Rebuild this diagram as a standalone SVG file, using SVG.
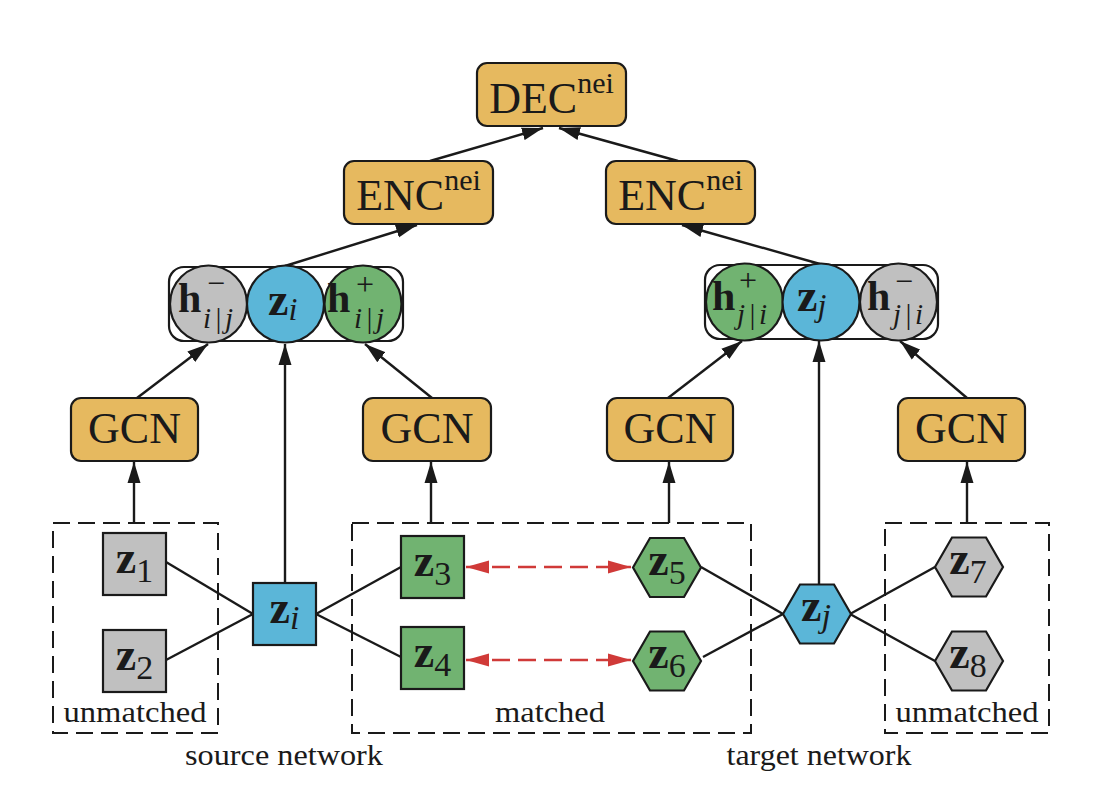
<svg xmlns="http://www.w3.org/2000/svg" width="1118" height="790" viewBox="0 0 1118 790">
<defs>
<style>
.box{fill:#e6b95f;stroke:#1a1a1a;stroke-width:2.2}
.gray{fill:#c0c0c0;stroke:#1a1a1a;stroke-width:2.2}
.blue{fill:#5bb6d8;stroke:#1a1a1a;stroke-width:2.2}
.green{fill:#71b371;stroke:#1a1a1a;stroke-width:2.2}
.grp{fill:none;stroke:#1a1a1a;stroke-width:2.2}
.dash{fill:none;stroke:#1a1a1a;stroke-width:2;stroke-dasharray:17 8}
.edge{stroke:#1a1a1a;stroke-width:2.4;fill:none}
.arr{stroke:#1a1a1a;stroke-width:2.4;fill:none;marker-end:url(#ah)}
.red{stroke:#d03a38;stroke-width:2.4;fill:none;stroke-dasharray:18 8;marker-start:url(#rh);marker-end:url(#rh)}
text{font-family:"Liberation Serif","DejaVu Serif",serif;fill:#1a1a1a}
.lbl{font-size:44px;text-anchor:middle}
.z{font-size:46px;font-weight:bold}
.sub{font-size:34px}
.it{font-style:italic}
.cap{font-size:30px;text-anchor:middle}
</style>
<marker id="ah" markerUnits="userSpaceOnUse" markerWidth="22" markerHeight="14" refX="21" refY="7" orient="auto"><path d="M0,0.5 L21,7 L0,13.5 z" fill="#1a1a1a"/></marker>
<marker id="rh" markerUnits="userSpaceOnUse" markerWidth="24" markerHeight="14" refX="23" refY="7" orient="auto-start-reverse"><path d="M0,0.5 L23,7 L0,13.5 z" fill="#d03a38"/></marker>
</defs>
<rect width="1118" height="790" fill="#ffffff"/>

<g id="connectors">
<line class="arr" x1="430" y1="161" x2="543" y2="128"/>
<line class="arr" x1="678" y1="161" x2="559" y2="128"/>
<line class="arr" x1="285" y1="266" x2="417" y2="225"/>
<line class="arr" x1="820" y1="264" x2="682" y2="225"/>
<line class="arr" x1="137" y1="398" x2="208" y2="344"/>
<line class="arr" x1="432" y1="398" x2="365" y2="344"/>
<line class="arr" x1="285" y1="583" x2="285" y2="344"/>
<line class="arr" x1="668" y1="398" x2="742" y2="341"/>
<line class="arr" x1="967" y1="398" x2="900" y2="341"/>
<line class="arr" x1="819" y1="585" x2="819" y2="341"/>
<line class="arr" x1="134" y1="523" x2="134" y2="462"/>
<line class="arr" x1="431" y1="523" x2="431" y2="462"/>
<line class="arr" x1="669" y1="523" x2="669" y2="462"/>
<line class="arr" x1="967" y1="523" x2="967" y2="462"/>
<line class="edge" x1="166" y1="562" x2="253" y2="614"/>
<line class="edge" x1="166" y1="660" x2="253" y2="614"/>
<line class="edge" x1="316" y1="614" x2="401" y2="567"/>
<line class="edge" x1="316" y1="614" x2="401" y2="657"/>
<line class="edge" x1="701" y1="567" x2="783" y2="614"/>
<line class="edge" x1="703" y1="657" x2="783" y2="614"/>
<line class="edge" x1="850" y1="614" x2="935" y2="567"/>
<line class="edge" x1="850" y1="614" x2="935" y2="661"/>
<line class="red" x1="466" y1="567" x2="631" y2="567"/>
<line class="red" x1="466" y1="660" x2="631" y2="660"/>
</g>

<g id="groups">
<rect class="dash" x="53" y="523" width="165" height="210"/>
<rect class="dash" x="352" y="523" width="399" height="210"/>
<rect class="dash" x="885" y="523" width="164" height="210"/>
<text class="cap" x="135" y="722" textLength="143" lengthAdjust="spacingAndGlyphs">unmatched</text>
<text class="cap" x="550" y="722" textLength="110" lengthAdjust="spacingAndGlyphs">matched</text>
<text class="cap" x="967" y="722" textLength="143" lengthAdjust="spacingAndGlyphs">unmatched</text>
<text class="cap" x="284" y="765" textLength="198" lengthAdjust="spacingAndGlyphs">source network</text>
<text class="cap" x="819" y="765" textLength="185" lengthAdjust="spacingAndGlyphs">target network</text>
</g>

<g id="dec">
<rect class="box" x="477" y="63" width="149" height="63" rx="10"/>
<text class="lbl" x="551.5" y="113">DEC<tspan dy="-20" font-size="30">nei</tspan></text>
</g>
<g id="enc-left">
<rect class="box" x="344" y="161" width="149" height="63" rx="10"/>
<text class="lbl" x="418.5" y="210">ENC<tspan dy="-20" font-size="30">nei</tspan></text>
</g>
<g id="enc-right">
<rect class="box" x="606" y="161" width="149" height="63" rx="10"/>
<text class="lbl" x="680.5" y="210">ENC<tspan dy="-20" font-size="30">nei</tspan></text>
</g>

<g id="gcn1"><rect class="box" x="71" y="398" width="127" height="63" rx="10"/><text class="lbl" x="134.5" y="443">GCN</text></g>
<g id="gcn2"><rect class="box" x="363" y="398" width="128" height="63" rx="10"/><text class="lbl" x="427" y="443">GCN</text></g>
<g id="gcn3"><rect class="box" x="607" y="398" width="126" height="63" rx="10"/><text class="lbl" x="670" y="443">GCN</text></g>
<g id="gcn4"><rect class="box" x="898" y="398" width="127" height="63" rx="10"/><text class="lbl" x="961.5" y="443">GCN</text></g>

<g id="concat-left">
<rect class="grp" x="169" y="267" width="234" height="74" rx="15"/>
<circle class="gray" cx="208.5" cy="304" r="38.5"/>
<circle class="blue" cx="285.5" cy="304" r="38.5"/>
<circle class="green" cx="363" cy="304" r="38.5"/>
<text x="178" y="312" font-size="42" font-weight="bold">h</text>
<text x="207" y="294" font-size="32">−</text>
<text x="203" y="328" font-size="29" font-style="italic" letter-spacing="3">i|j</text>
<text x="268" y="315" font-size="46" font-weight="bold">z<tspan class="it" font-weight="normal" font-size="32" dy="5">i</tspan></text>
<text x="327" y="312" font-size="42" font-weight="bold">h</text>
<text x="356" y="295" font-size="32">+</text>
<text x="354" y="328" font-size="29" font-style="italic" letter-spacing="3">i|j</text>
</g>

<g id="concat-right">
<rect class="grp" x="705" y="265" width="233" height="74" rx="15"/>
<circle class="green" cx="744.5" cy="302" r="38.5"/>
<circle class="blue" cx="821" cy="302" r="38.5"/>
<circle class="gray" cx="898.5" cy="302" r="38.5"/>
<text x="712" y="310" font-size="42" font-weight="bold">h</text>
<text x="739" y="291" font-size="32">+</text>
<text x="737" y="324" font-size="29" font-style="italic" letter-spacing="3">j|i</text>
<text x="797" y="311" font-size="46" font-weight="bold">z<tspan class="it" font-weight="normal" font-size="32" dy="5">j</tspan></text>
<text x="867" y="310" font-size="42" font-weight="bold">h</text>
<text x="895" y="292" font-size="32">−</text>
<text x="893" y="324" font-size="29" font-style="italic" letter-spacing="3">j|i</text>
</g>

<g id="z1"><rect class="gray" x="103" y="533" width="63" height="62"/><text class="z" x="134.5" y="573" text-anchor="middle">z<tspan class="sub" font-weight="normal" dy="9">1</tspan></text></g>
<g id="z2"><rect class="gray" x="103" y="630" width="63" height="62"/><text class="z" x="134.5" y="670" text-anchor="middle">z<tspan class="sub" font-weight="normal" dy="9">2</tspan></text></g>
<g id="zi"><rect class="blue" x="253" y="583" width="63" height="62"/><text class="z" x="284.5" y="623" text-anchor="middle">z<tspan class="sub it" font-weight="normal" dy="6">i</tspan></text></g>
<g id="z3"><rect class="green" x="401" y="536" width="63" height="62"/><text class="z" x="432.5" y="576" text-anchor="middle">z<tspan class="sub" font-weight="normal" dy="9">3</tspan></text></g>
<g id="z4"><rect class="green" x="401" y="627" width="63" height="62"/><text class="z" x="432.5" y="667" text-anchor="middle">z<tspan class="sub" font-weight="normal" dy="9">4</tspan></text></g>
<g id="z5"><polygon class="green" points="633,567.5 650,538 684,538 701,567.5 684,597 650,597"/><text class="z" x="667" y="575" text-anchor="middle">z<tspan class="sub" font-weight="normal" dy="9">5</tspan></text></g>
<g id="z6"><polygon class="green" points="633,661 650,631.5 684,631.5 701,661 684,690.5 650,690.5"/><text class="z" x="667" y="668" text-anchor="middle">z<tspan class="sub" font-weight="normal" dy="9">6</tspan></text></g>
<g id="zj"><polygon class="blue" points="783,614 800,584.5 834,584.5 851,614 834,643.5 800,643.5"/><text class="z" x="816" y="621" text-anchor="middle">z<tspan class="sub it" font-weight="normal" dy="6">j</tspan></text></g>
<g id="z7"><polygon class="gray" points="935,567 952,537.5 986,537.5 1003,567 986,596.5 952,596.5"/><text class="z" x="968" y="574" text-anchor="middle">z<tspan class="sub" font-weight="normal" dy="9">7</tspan></text></g>
<g id="z8"><polygon class="gray" points="935,661 952,631.5 986,631.5 1003,661 986,690.5 952,690.5"/><text class="z" x="968" y="668" text-anchor="middle">z<tspan class="sub" font-weight="normal" dy="9">8</tspan></text></g>
</svg>
